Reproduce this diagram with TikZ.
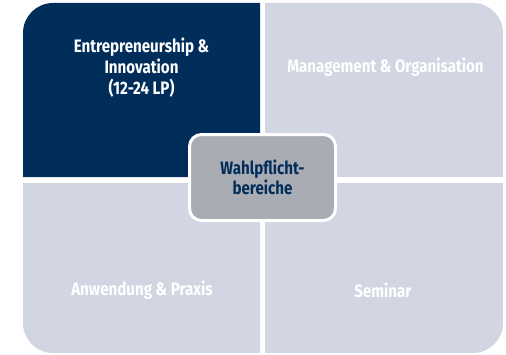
\documentclass[tikz,border=0pt]{standalone}
\usepackage{fontspec}
\setmainfont{Fira Sans}[FakeStretch=0.84]
\definecolor{navy}{RGB}{0,45,90}
\definecolor{lightblue}{RGB}{210,214,226}
\definecolor{midgray}{RGB}{170,172,180}
\begin{document}
\begin{tikzpicture}[x=0.75pt, y=0.75pt,
    label/.style={align=center, font=\bfseries\fontsize{13.5}{15.75}\selectfont, text=white},
    hub/.style={rectangle, rounded corners=9pt, draw=white, line width=2.25pt, fill=midgray,
        minimum width=109.5pt, minimum height=64.5pt, align=center, text=navy,
        font=\bfseries\fontsize{13.5}{15}\selectfont}]
    \useasboundingbox (0,0) rectangle (506,354);

    % Entrepreneurship
    \fill[navy] (23,177) -- (23,321) arc[start angle=180, end angle=90, radius=30] -- (260,351) -- (260,177) -- cycle;
    \node (E) [label] at (141.5,286) {Entrepreneurship \&\\Innovation\\(12-24 LP)};

    % Management
    \fill[lightblue] (265,177) -- (265,351) -- (473,351) arc[start angle=90, end angle=0, radius=30] -- (503,177) -- cycle;
    \node (M) [label] at (385.5,287) {Management \& Organisation};

    % Anwendung
    \fill[lightblue] (260,171) -- (23,171) -- (23,31) arc[start angle=180, end angle=270, radius=30] -- (260,1) -- cycle;
    \node (A) [label] at (142,64) {Anwendung \& Praxis};

    % Seminar
    \fill[lightblue] (265,171) -- (503,171) -- (503,31) arc[start angle=0, end angle=-90, radius=30] -- (265,1) -- cycle;
    \node (S) [label] at (383,64) {Seminar};

    % Wahlpflichtbereiche
    \node (W) [hub] at (262.5,176.5) {Wahlpflicht-\\bereiche};
\end{tikzpicture}
\end{document}
